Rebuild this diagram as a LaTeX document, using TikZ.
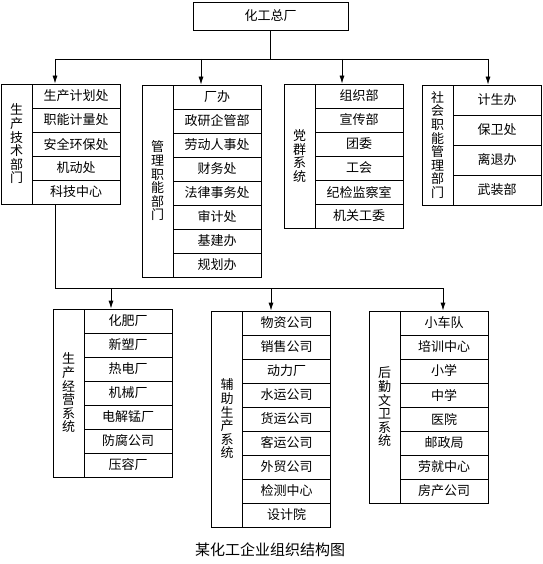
\documentclass[tikz,border=0pt]{standalone}
\usepackage{fontspec}
\newfontfamily\cjk{Noto Sans CJK SC}
\usetikzlibrary{arrows.meta}

\tikzset{
  unit/.style={draw, line width=0.8pt, inner sep=0pt, font=\cjk\fontsize{13}{13.6}\selectfont},
  side/.style={unit, minimum width=31pt, align=center},
  item/.style={unit, minimum width=88pt, minimum height=24pt},
  down/.style={-{Latex[length=8pt,width=5pt]}, line width=0.8pt},
}

\begin{document}
\begin{tikzpicture}[x=1pt, y=-1pt, line width=0.8pt]
\useasboundingbox (0,0) rectangle (542,564);

  % Head office
  \node[unit, minimum width=155pt, minimum height=28pt] (top) at (270.5,16) {化工总厂};

  % Upper bus
  \coordinate (b1) at (55,59);
  \coordinate (b2) at (201,59);
  \coordinate (b3) at (342,59);
  \coordinate (b4) at (488,59);

  % Lower bus
  \coordinate (c1) at (55,288);
  \coordinate (c2) at (111,288);
  \coordinate (c3) at (271,288);
  \coordinate (c4) at (443,288);

  % Groups, upper row
  \node[side, minimum height=120pt] (s1) at (16.5,144) {生\\产\\技\\术\\部\\门};
  \foreach \t [count=\i] in {生产计划处,职能计量处,安全环保处,机动处,科技中心}
    \node[item] (s1-\i) at (76,72+24*\i) {\t};

  \node[side, minimum height=192pt] (s2) at (157.5,181) {管\\理\\职\\能\\部\\门};
  \foreach \t [count=\i] in {厂办,政研企管部,劳动人事处,财务处,法律事务处,审计处,基建办,规划办}
    \node[item] (s2-\i) at (217,73+24*\i) {\t};

  \node[side, minimum height=144pt] (s3) at (299.5,156) {党\\群\\系\\统};
  \foreach \t [count=\i] in {组织部,宣传部,团委,工会,纪检监察室,机关工委}
    \node[item] (s3-\i) at (359,72+24*\i) {\t};

  \node[side, minimum height=120pt] (s4) at (437.5,145) {社\\会\\职\\能\\管\\理\\部\\门};
  \foreach \t [count=\i] in {计生办,保卫处,离退办,武装部}
    \node[item, minimum height=30pt] (s4-\i) at (497,70+30*\i) {\t};

  % Groups, lower row
  \node[side, minimum height=168pt] (s5) at (68.5,393) {生\\产\\经\\营\\系\\统};
  \foreach \t [count=\i] in {化肥厂,新塑厂,热电厂,机械厂,电解锰厂,防腐公司,压容厂}
    \node[item] (s5-\i) at (128,297+24*\i) {\t};

  \node[side, minimum height=216pt] (s6) at (227,419) {辅\\助\\生\\产\\系\\统};
  \foreach \t [count=\i] in {物资公司,销售公司,动力厂,水运公司,货运公司,客运公司,外贸公司,检测中心,设计院}
    \node[item] (s6-\i) at (286.5,299+24*\i) {\t};

  \node[side, minimum height=192pt] (s7) at (384.5,407) {后\\勤\\文\\卫\\系\\统};
  \foreach \t [count=\i] in {小车队,培训中心,小学,中学,医院,邮政局,劳就中心,房产公司}
    \node[item] (s7-\i) at (444,299+24*\i) {\t};

  % Connectors
  \draw (top.south) -- (top.south |- b1);
  \draw (b1) -- (b4);
  \draw[down] (b1) -- (b1 |- s1.north);
  \draw[down] (b2) -- (b2 |- s2.north);
  \draw[down] (b3) -- (b3 |- s3.north);
  \draw[down] (b4) -- (b4 |- s4.north);

  \draw (b1 |- s1.south) -- (c1) -- (c4);
  \draw[down] (c2) -- (c2 |- s5.north);
  \draw[down] (c3) -- (c3 |- s6.north);
  \draw[down] (c4) -- (c4 |- s7.north);

  % Caption
  \node[font=\cjk\fontsize{15}{15}\selectfont] (title) at (270,550) {某化工企业组织结构图};
\end{tikzpicture}
\end{document}
